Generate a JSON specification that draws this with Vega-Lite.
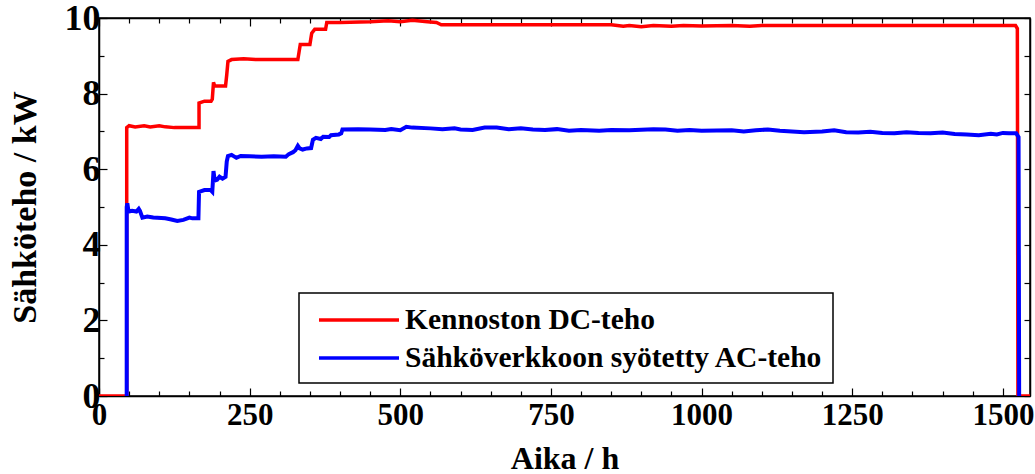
{
  "$schema": "https://vega.github.io/schema/vega-lite/v6.json",
  "autosize": {"type": "none"},
  "padding": {"left": 99, "top": 18, "right": 5, "bottom": 78},
  "width": 931,
  "height": 378,
  "config": {
    "font": "Liberation Serif",
    "view": {"stroke": "black", "strokeWidth": 1.5},
    "legend": {"strokeWidth": 1.5},
    "axis": {"grid": false, "domainColor": "black", "domainWidth": 1.5, "tickColor": "black", "tickWidth": 1.2, "labelColor": "black", "titleColor": "black", "labelFont": "Liberation Serif", "titleFont": "Liberation Serif", "labelFontWeight": "bold", "titleFontWeight": "bold", "labelOverlap": false, "labelFlush": false}
  },
  "datasets": {
    "dc": [
      {"t": 0, "p": 0}, {"t": 46, "p": 0}, {"t": 46, "p": 7.1}, {"t": 50, "p": 7.15}, {"t": 60, "p": 7.12},
      {"t": 75, "p": 7.15}, {"t": 85, "p": 7.12}, {"t": 100, "p": 7.15}, {"t": 110, "p": 7.12}, {"t": 125, "p": 7.1},
      {"t": 145, "p": 7.1}, {"t": 166, "p": 7.1}, {"t": 166, "p": 7.75}, {"t": 175, "p": 7.8}, {"t": 186, "p": 7.8},
      {"t": 188, "p": 7.85}, {"t": 190, "p": 8.3}, {"t": 192, "p": 8.2}, {"t": 210, "p": 8.2}, {"t": 212, "p": 8.5},
      {"t": 214, "p": 8.85}, {"t": 220, "p": 8.9}, {"t": 240, "p": 8.92}, {"t": 260, "p": 8.9}, {"t": 330, "p": 8.9},
      {"t": 332, "p": 9.1}, {"t": 334, "p": 9.3}, {"t": 350, "p": 9.3}, {"t": 353, "p": 9.6}, {"t": 358, "p": 9.7},
      {"t": 376, "p": 9.7}, {"t": 378, "p": 9.88}, {"t": 400, "p": 9.88}, {"t": 450, "p": 9.9}, {"t": 480, "p": 9.93},
      {"t": 500, "p": 9.9}, {"t": 520, "p": 9.94}, {"t": 545, "p": 9.9}, {"t": 560, "p": 9.88}, {"t": 568, "p": 9.82},
      {"t": 700, "p": 9.82}, {"t": 850, "p": 9.82}, {"t": 870, "p": 9.78}, {"t": 880, "p": 9.8}, {"t": 900, "p": 9.77},
      {"t": 920, "p": 9.8}, {"t": 950, "p": 9.78}, {"t": 970, "p": 9.8}, {"t": 1000, "p": 9.79}, {"t": 1050, "p": 9.8},
      {"t": 1080, "p": 9.78}, {"t": 1100, "p": 9.8}, {"t": 1300, "p": 9.8}, {"t": 1521, "p": 9.8}, {"t": 1524, "p": 9.72},
      {"t": 1525, "p": 0}, {"t": 1545, "p": 0}
    ],
    "ac": [
      {"t": 46, "p": 0}, {"t": 46, "p": 5.0}, {"t": 47, "p": 5.1}, {"t": 49, "p": 4.88}, {"t": 55, "p": 4.9},
      {"t": 62, "p": 4.88}, {"t": 66, "p": 4.95}, {"t": 68, "p": 4.9}, {"t": 72, "p": 4.72}, {"t": 80, "p": 4.75},
      {"t": 90, "p": 4.72}, {"t": 110, "p": 4.7}, {"t": 120, "p": 4.67}, {"t": 130, "p": 4.63}, {"t": 140, "p": 4.66},
      {"t": 150, "p": 4.72}, {"t": 155, "p": 4.7}, {"t": 165, "p": 4.7}, {"t": 166, "p": 5.4}, {"t": 175, "p": 5.45},
      {"t": 185, "p": 5.45}, {"t": 188, "p": 5.4}, {"t": 190, "p": 5.95}, {"t": 192, "p": 5.7}, {"t": 196, "p": 5.72},
      {"t": 200, "p": 5.8}, {"t": 205, "p": 5.75}, {"t": 210, "p": 5.8}, {"t": 212, "p": 6.2}, {"t": 214, "p": 6.35},
      {"t": 220, "p": 6.38}, {"t": 228, "p": 6.3}, {"t": 235, "p": 6.35}, {"t": 250, "p": 6.34}, {"t": 270, "p": 6.33},
      {"t": 290, "p": 6.34}, {"t": 310, "p": 6.33}, {"t": 315, "p": 6.4}, {"t": 322, "p": 6.45}, {"t": 326, "p": 6.5},
      {"t": 330, "p": 6.62}, {"t": 333, "p": 6.55}, {"t": 338, "p": 6.52}, {"t": 345, "p": 6.55}, {"t": 352, "p": 6.56},
      {"t": 355, "p": 6.78}, {"t": 360, "p": 6.83}, {"t": 368, "p": 6.8}, {"t": 372, "p": 6.86}, {"t": 382, "p": 6.85},
      {"t": 385, "p": 6.9}, {"t": 398, "p": 6.92}, {"t": 402, "p": 6.95}, {"t": 404, "p": 7.05}, {"t": 430, "p": 7.06},
      {"t": 450, "p": 7.05}, {"t": 475, "p": 7.04}, {"t": 485, "p": 7.06}, {"t": 500, "p": 7.03}, {"t": 510, "p": 7.12},
      {"t": 520, "p": 7.1}, {"t": 550, "p": 7.08}, {"t": 570, "p": 7.06}, {"t": 590, "p": 7.08}, {"t": 600, "p": 7.05},
      {"t": 620, "p": 7.04}, {"t": 640, "p": 7.1}, {"t": 660, "p": 7.1}, {"t": 680, "p": 7.06}, {"t": 700, "p": 7.08},
      {"t": 720, "p": 7.05}, {"t": 740, "p": 7.04}, {"t": 760, "p": 7.06}, {"t": 780, "p": 7.02}, {"t": 800, "p": 7.04},
      {"t": 830, "p": 7.02}, {"t": 850, "p": 7.04}, {"t": 880, "p": 7.03}, {"t": 920, "p": 7.06}, {"t": 940, "p": 7.05},
      {"t": 960, "p": 7.02}, {"t": 980, "p": 7.04}, {"t": 1000, "p": 7.02}, {"t": 1050, "p": 7.03}, {"t": 1070, "p": 7.0},
      {"t": 1090, "p": 7.03}, {"t": 1110, "p": 7.05}, {"t": 1130, "p": 7.02}, {"t": 1150, "p": 7.0}, {"t": 1170, "p": 6.98},
      {"t": 1200, "p": 7.0}, {"t": 1220, "p": 7.03}, {"t": 1240, "p": 6.98}, {"t": 1260, "p": 6.97}, {"t": 1280, "p": 6.99},
      {"t": 1300, "p": 6.96}, {"t": 1320, "p": 6.95}, {"t": 1340, "p": 6.98}, {"t": 1360, "p": 6.96}, {"t": 1380, "p": 6.95},
      {"t": 1400, "p": 6.97}, {"t": 1420, "p": 6.93}, {"t": 1440, "p": 6.92}, {"t": 1460, "p": 6.9}, {"t": 1480, "p": 6.94},
      {"t": 1490, "p": 6.92}, {"t": 1500, "p": 6.96}, {"t": 1510, "p": 6.95}, {"t": 1522, "p": 6.95}, {"t": 1526, "p": 6.85},
      {"t": 1527, "p": 0}
    ]
  },
  "layer": [
    {
      "data": {"name": "dc"},
      "mark": {"type": "line", "strokeWidth": 3.5, "clip": true},
      "encoding": {
        "x": {
          "field": "t", "type": "quantitative",
          "scale": {"domain": [0, 1545], "nice": false, "zero": false},
          "axis": {
            "orient": "bottom", "title": "Aika / h", "format": "d",
            "values": [0, 50, 100, 150, 200, 250, 300, 350, 400, 450, 500, 550, 600, 650, 700, 750, 800, 850, 900, 950, 1000, 1050, 1100, 1150, 1200, 1250, 1300, 1350, 1400, 1450, 1500],
            "labelExpr": "datum.value % 250 === 0 ? datum.label : ''",
            "tickSize": {"condition": {"test": "datum.value % 250 === 0", "value": -8}, "value": -5},
            "labelFontSize": 31, "labelPadding": 12,
            "titleFontSize": 32, "titleBaseline": "alphabetic", "titleY": 72
          }
        },
        "y": {
          "field": "p", "type": "quantitative",
          "scale": {"domain": [0, 10], "nice": false},
          "axis": {
            "orient": "left", "title": "Sähköteho / kW",
            "values": [0, 1, 2, 3, 4, 5, 6, 7, 8, 9, 10],
            "labelExpr": "datum.value % 2 === 0 ? datum.label : ''",
            "tickSize": {"condition": {"test": "datum.value % 2 === 0", "value": -8}, "value": -5},
            "labelFontSize": 36, "labelPadding": 7, "labelBaseline": "middle",
            "titleFontSize": 34, "titleAngle": -90, "titleX": -74, "titleY": 189, "titleAlign": "center", "titleBaseline": "middle"
          }
        },
        "color": {
          "datum": "Kennoston DC-teho",
          "type": "nominal",
          "scale": {"domain": ["Kennoston DC-teho", "Sähköverkkoon syötetty AC-teho"], "range": ["#ff0000", "#0000ff"]},
          "legend": {
            "title": null, "orient": "none", "legendX": 200, "legendY": 275,
            "direction": "vertical",
            "strokeColor": "black", "fillColor": "white", "padding": 10,
            "symbolType": "M-2.667,0H2.667", "symbolSize": 900, "symbolStrokeWidth": 3.5, "symbolOffset": 33,
            "labelFont": "Liberation Serif", "labelFontWeight": "bold", "labelFontSize": 29.5, "labelColor": "black",
            "labelLimit": 0, "labelOffset": 29, "rowPadding": 6
          }
        }
      }
    },
    {
      "data": {"name": "ac"},
      "mark": {"type": "line", "strokeWidth": 4, "clip": true},
      "encoding": {
        "x": {
          "field": "t", "type": "quantitative",
          "scale": {"domain": [0, 1545], "nice": false, "zero": false},
          "axis": {
            "orient": "top", "title": null, "labels": false,
            "values": [0, 50, 100, 150, 200, 250, 300, 350, 400, 450, 500, 550, 600, 650, 700, 750, 800, 850, 900, 950, 1000, 1050, 1100, 1150, 1200, 1250, 1300, 1350, 1400, 1450, 1500],
            "tickSize": {"condition": {"test": "datum.value % 250 === 0", "value": -8}, "value": -5}
          }
        },
        "y": {
          "field": "p", "type": "quantitative",
          "scale": {"domain": [0, 10], "nice": false},
          "axis": {
            "orient": "right", "title": null, "labels": false,
            "values": [0, 1, 2, 3, 4, 5, 6, 7, 8, 9, 10],
            "tickSize": -6
          }
        },
        "color": {"datum": "Sähköverkkoon syötetty AC-teho", "type": "nominal"}
      }
    }
  ],
  "resolve": {"scale": {"x": "independent", "y": "independent"}, "axis": {"x": "independent", "y": "independent"}}
}
